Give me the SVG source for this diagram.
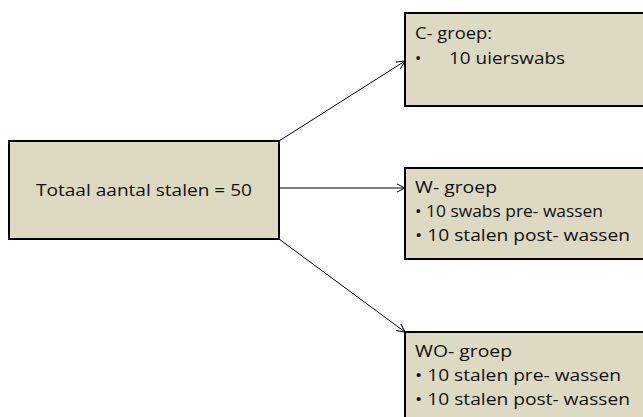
<svg xmlns="http://www.w3.org/2000/svg" width="643" height="417" viewBox="0 0 643 417">
<style>
.box{fill:#DDD9C3;stroke:#000;stroke-width:2}
.t{font-family:"Open Sans","Noto Sans",sans-serif;font-size:16.5px;fill:#111}
.c{stroke:#000;stroke-width:1;fill:none}
</style>
<defs>
<marker id="ah" markerWidth="10" markerHeight="10" refX="9" refY="5" orient="auto" markerUnits="userSpaceOnUse">
<polyline points="1,1 9,5 1,9" fill="none" stroke="#000" stroke-width="1"/>
</marker>
</defs>
<g id="connectors">
<line class="c" x1="279" y1="141" x2="405" y2="61" marker-end="url(#ah)"/>
<line class="c" x1="279" y1="188" x2="405" y2="188" marker-end="url(#ah)"/>
<line class="c" x1="279" y1="239" x2="405" y2="332" marker-end="url(#ah)"/>
</g>
<g id="totaal">
<rect class="box" x="9" y="141" width="270" height="98"/>
<text class="t" x="144" y="196" text-anchor="middle" textLength="216" lengthAdjust="spacingAndGlyphs">Totaal aantal stalen = 50</text>
</g>
<g id="c-groep">
<rect class="box" x="405" y="13" width="245" height="93"/>
<text class="t" x="415" y="39" textLength="77" lengthAdjust="spacingAndGlyphs">C- groep:</text>
<text class="t" x="415" y="64">•</text>
<text class="t" x="449" y="64" textLength="116" lengthAdjust="spacingAndGlyphs">10 uierswabs</text>
</g>
<g id="w-groep">
<rect class="box" x="405" y="168" width="245" height="91"/>
<text class="t" x="415" y="193" textLength="82" lengthAdjust="spacingAndGlyphs">W- groep</text>
<text class="t" x="415" y="217" textLength="188" lengthAdjust="spacingAndGlyphs">• 10 swabs pre- wassen</text>
<text class="t" x="415" y="241" textLength="215" lengthAdjust="spacingAndGlyphs">• 10 stalen  post- wassen</text>
</g>
<g id="wo-groep">
<rect class="box" x="405" y="332" width="245" height="95"/>
<text class="t" x="415" y="357" textLength="97" lengthAdjust="spacingAndGlyphs">WO- groep</text>
<text class="t" x="415" y="381" textLength="206" lengthAdjust="spacingAndGlyphs">• 10 stalen  pre- wassen</text>
<text class="t" x="415" y="405" textLength="215" lengthAdjust="spacingAndGlyphs">• 10 stalen  post- wassen</text>
</g>
</svg>
